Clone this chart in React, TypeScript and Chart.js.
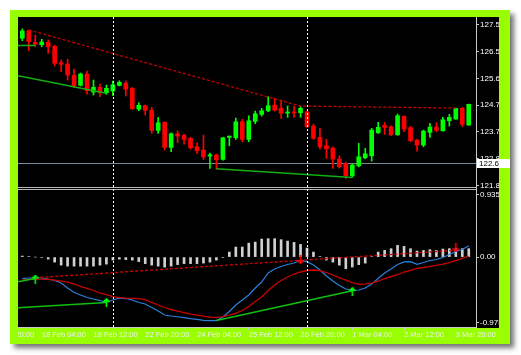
import React, { useEffect, useRef } from 'react';
import { Chart, registerables } from 'chart.js';

Chart.register(...registerables);

// ---- price candles (4h bars, index = bar number) ----
const opens = [127.062,127.329,126.921,126.836,126.921,126.780,126.203,126.157,125.759,125.407,
  125.805,125.171,125.336,125.146,125.206,125.407,125.488,125.301,124.572,124.689,
  124.537,123.822,124.104,123.224,123.703,123.646,123.541,123.245,123.129,122.917,
  122.953,122.801,123.576,123.562,124.125,123.505,124.139,124.386,124.512,124.713,
  124.597,124.431,124.467,124.442,124.477,123.974,123.576,123.280,123.199,122.812,
  122.660,122.224,122.576,122.858,122.928,123.738,123.999,123.949,123.667,124.315,
  123.914,123.481,123.305,123.752,123.938,123.808,124.160,124.220,124.597,124.009];
const highs = [127.389,127.354,127.178,127.026,127.002,126.815,126.298,126.322,125.970,125.840,
  125.910,125.593,125.453,125.417,125.558,125.569,125.558,125.336,124.794,124.713,
  124.632,124.280,124.125,123.738,123.808,123.692,123.576,123.386,123.657,123.023,
  122.988,123.576,123.622,124.255,124.210,124.336,124.502,124.597,125.005,124.949,
  124.889,124.678,124.678,124.678,124.502,124.044,123.893,123.505,123.245,122.928,
  122.696,122.636,123.365,123.188,123.893,124.104,124.104,123.984,124.396,124.336,
  123.963,123.505,123.833,124.069,124.090,124.280,124.386,124.607,124.632,124.748];
const lows = [126.977,126.625,126.766,126.766,126.534,126.086,125.886,125.593,125.322,125.382,
  125.100,125.065,125.005,125.090,125.041,125.382,125.030,124.562,124.512,124.361,
  123.717,123.717,123.129,123.069,123.386,123.340,123.164,123.012,122.801,122.484,
  122.459,122.777,123.280,123.505,123.421,123.421,124.055,124.326,124.477,124.502,
  124.245,124.280,124.291,124.280,123.928,123.505,123.164,122.837,122.484,122.495,
  122.132,122.178,122.541,122.822,122.741,123.717,123.681,123.632,123.646,123.773,
  123.421,123.093,123.245,123.576,123.773,123.798,123.974,124.210,123.949,123.999];
const closes = [127.319,126.942,126.850,126.931,126.766,126.181,126.146,125.769,125.393,125.805,
  125.217,125.336,125.146,125.301,125.428,125.512,125.266,124.583,124.703,124.527,
  123.822,124.090,123.224,123.703,123.622,123.505,123.210,123.104,122.893,122.963,
  122.787,123.562,123.622,124.125,123.505,124.160,124.407,124.512,124.689,124.537,
  124.421,124.467,124.431,124.597,123.949,123.541,123.245,123.174,122.812,122.541,
  122.224,122.600,122.893,122.998,123.833,123.928,123.928,123.667,124.336,123.868,
  123.456,123.305,123.798,123.938,123.822,124.196,124.280,124.597,124.033,124.738];

// ---- MACD sub-window ----
const macdMain = [-0.299,-0.292,-0.288,-0.292,-0.306,-0.327,-0.362,-0.431,-0.494,-0.529,
  -0.564,-0.585,-0.606,-0.633,-0.599,-0.571,-0.578,-0.599,-0.633,-0.654,
  -0.703,-0.752,-0.808,-0.822,-0.832,-0.843,-0.857,-0.868,-0.882,-0.887,
  -0.885,-0.836,-0.759,-0.668,-0.599,-0.529,-0.431,-0.348,-0.222,-0.166,
  -0.131,-0.103,-0.083,-0.045,-0.064,-0.110,-0.180,-0.264,-0.334,-0.396,
  -0.445,-0.466,-0.459,-0.431,-0.375,-0.299,-0.222,-0.166,-0.103,-0.066,
  -0.064,-0.101,-0.076,-0.048,-0.034,-0.006,0.036,0.078,0.106,0.159];
const macdSignal = [-0.320,-0.310,-0.306,-0.306,-0.310,-0.320,-0.334,-0.348,-0.375,-0.410,
  -0.438,-0.466,-0.501,-0.522,-0.550,-0.564,-0.571,-0.575,-0.580,-0.592,
  -0.633,-0.668,-0.703,-0.731,-0.752,-0.773,-0.794,-0.808,-0.822,-0.836,
  -0.840,-0.829,-0.808,-0.780,-0.745,-0.689,-0.620,-0.557,-0.466,-0.389,
  -0.327,-0.278,-0.236,-0.208,-0.187,-0.180,-0.190,-0.215,-0.250,-0.285,
  -0.320,-0.355,-0.380,-0.375,-0.362,-0.334,-0.299,-0.271,-0.243,-0.208,
  -0.184,-0.156,-0.145,-0.131,-0.115,-0.097,-0.076,-0.048,-0.017,0.015];
const macdHist = [0.014,0.007,0.0,-0.007,-0.028,-0.07,-0.112,-0.126,-0.126,-0.126,
  -0.126,-0.126,-0.112,-0.098,-0.042,-0.028,-0.035,-0.042,-0.063,-0.091,
  -0.112,-0.126,-0.14,-0.126,-0.105,-0.091,-0.091,-0.091,-0.084,-0.07,
  -0.042,-0.007,0.07,0.14,0.14,0.195,0.209,0.251,0.257,0.257,
  0.243,0.223,0.205,0.177,0.126,0.07,0.007,-0.042,-0.07,-0.112,
  -0.163,-0.139,-0.106,-0.084,0.007,0.07,0.093,0.117,0.163,0.149,
  0.117,0.084,0.093,0.103,0.093,0.112,0.117,0.117,0.117,0.117];

// ---- divergence lines ----
const priceHighLineBars = [1, 43, 67];
const priceHighLineValues = [127.354, 124.678, 124.607];
const priceLowLineABars = [-3, 2];
const priceLowLineAValues = [126.808, 126.808];
const priceLowLineBBars = [-1, 13];
const priceLowLineBValues = [125.759, 125.125];
const priceLowLineCBars = [30, 51];
const priceLowLineCValues = [122.47, 122.167];

const macdHighLineBars = [2, 43, 67];
const macdHighLineValues = [-0.288, -0.045, 0.095];
const macdLowLineABars = [-2, 2];
const macdLowLineAValues = [-0.366, -0.299];
const macdLowLineBBars = [-1, 13];
const macdLowLineBValues = [-0.707, -0.633];
const macdLowLineCBars = [30, 51];
const macdLowLineCValues = [-0.885, -0.47];

const upArrowBars = [2, 13, 51];
const upArrowValues = [-0.306, -0.633, -0.48];
const downArrowBars = [43, 67];
const downArrowValues = [-0.037, 0.129];

// ---- axes ----
const priceTicks = [127.53, 126.59, 125.65, 124.71, 123.77, 122.83, 121.89];
const priceTickLabels = ['127.5', '126.5', '125.6', '124.7', '123.7', '122.8', '121.8'];
const macdTicks = [0.87, 0, -0.91];
const macdTickLabels = ['0.9356', '0.00', '-0.975'];
const timeTicks = [-5, 3, 11, 19, 27, 35, 43, 51, 59, 67];
const timeTickLabels = ['16 Feb 20:00', '18 Feb 04:00', '19 Feb 12:00', '22 Feb 20:00', '24 Feb 04:00',
  '25 Feb 12:00', '26 Feb 20:00', '1 Mar 04:00', '2 Mar 12:00', '3 Mar 20:00'];

const priceMin = 121.725, priceMax = 127.81;
const macdMin = -0.975, macdMax = 0.9356;
const xMin = -0.665, xMax = 70.12;

const currentPrice = 122.69;
const currentPriceLabel = '122.6';
const vLineBars = [14, 44];

const GREEN_FRAME = '#99ff00';
const BULL = '#00ff00';
const BEAR = '#ff0000';
const FONT = 'Liberation Sans';

function makeArrow(color: string, up: boolean): HTMLCanvasElement {
  const c = document.createElement('canvas');
  c.width = 7; c.height = 9;
  const g = c.getContext('2d')!;
  g.strokeStyle = color; g.lineWidth = 1.6;
  g.beginPath();
  if (up) {
    g.moveTo(3.5, 9); g.lineTo(3.5, 1);
    g.moveTo(0.5, 4); g.lineTo(3.5, 1); g.lineTo(6.5, 4);
  } else {
    g.moveTo(3.5, 0); g.lineTo(3.5, 8);
    g.moveTo(0.5, 5); g.lineTo(3.5, 8); g.lineTo(6.5, 5);
  }
  g.stroke();
  return c;
}

const pts = (bars: number[], vals: number[]) => bars.map((b, k) => ({ x: b, y: vals[k] }));

const framePlugin = {
  id: 'mtFrame',
  beforeDraw(chart: any) {
    const ctx = chart.ctx;
    ctx.save();
    ctx.fillStyle = '#ffffff';
    ctx.fillRect(0, 0, chart.width, chart.height);
    ctx.shadowColor = 'rgba(0,0,0,0.55)';
    ctx.shadowBlur = 5; ctx.shadowOffsetX = 4; ctx.shadowOffsetY = 4;
    ctx.fillStyle = GREEN_FRAME;
    ctx.fillRect(10, 10, 500, 334);
    ctx.shadowColor = 'transparent';
    ctx.fillStyle = '#000000';
    ctx.fillRect(18, 17, 481, 311);
    // current price line
    const y = Math.round(chart.scales.y.getPixelForValue(currentPrice)) + 0.5;
    ctx.strokeStyle = '#778899'; ctx.lineWidth = 1;
    ctx.beginPath(); ctx.moveTo(chart.chartArea.left, y); ctx.lineTo(chart.chartArea.right, y); ctx.stroke();
    ctx.restore();
  },
  afterDatasetsDraw(chart: any) {
    const ctx = chart.ctx;
    const area = chart.chartArea;
    ctx.save();
    // separator between panes
    const yb = chart.scales.y.bottom;
    ctx.strokeStyle = '#b8b8b8'; ctx.lineWidth = 1;
    ctx.beginPath();
    ctx.moveTo(area.left, Math.round(yb) - 2.5); ctx.lineTo(area.right, Math.round(yb) - 2.5);
    ctx.moveTo(area.left, Math.round(yb) - 0.5); ctx.lineTo(area.right, Math.round(yb) - 0.5);
    ctx.stroke();
    // vertical dotted lines
    ctx.strokeStyle = '#ffffff'; ctx.setLineDash([2, 2]);
    for (const b of vLineBars) {
      const x = Math.round(chart.scales.x.getPixelForValue(b)) + 0.5;
      ctx.beginPath(); ctx.moveTo(x, area.top); ctx.lineTo(x, area.bottom); ctx.stroke();
    }
    ctx.restore();
  },
  afterDraw(chart: any) {
    const ctx = chart.ctx;
    ctx.save();
    ctx.fillStyle = '#ffffff';
    ctx.fillRect(0, 0, 10, chart.height);
    ctx.fillStyle = GREEN_FRAME;
    ctx.fillRect(10, 10, 8, 334);
    ctx.fillRect(499, 10, 11, 334);
    // current price label box
    const y = Math.round(chart.scales.y.getPixelForValue(currentPrice));
    ctx.fillStyle = '#ffffff';
    ctx.fillRect(477, y - 4, 33, 9);
    ctx.fillStyle = '#000000';
    ctx.font = `8px "${FONT}"`;
    ctx.textBaseline = 'middle';
    ctx.fillText(currentPriceLabel, 479, y + 0.5);
    ctx.restore();
  },
};

function barsOf(arr: number[]): number[] {
  return arr.map((_, i) => i);
}

export default function App() {
  const ref = useRef<HTMLCanvasElement>(null);
  useEffect(() => {
    document.body.style.margin = '0';
    const canvas = ref.current!;
    const upArrow = makeArrow('#00ff00', true);
    const downArrow = makeArrow('#ff0000', false);
    const candleColors = opens.map((o, i) => (closes[i] >= o ? BULL : BEAR));
    const lineDs = (bars: number[], vals: number[], axis: string, color: string, dash: number[], width: number, order: number) => ({
      type: 'line' as const,
      data: pts(bars, vals),
      yAxisID: axis,
      borderColor: color,
      borderWidth: width,
      borderDash: dash,
      pointRadius: 0,
      tension: 0,
      fill: false,
      order,
    });
    const yFit = (s: any) => { s.width = 23; s.paddingTop = 0; s.paddingBottom = 0; };
    const chart = new Chart(canvas, {
      type: 'bar',
      data: {
        datasets: [
          {
            type: 'bar',
            data: opens.map((_, i) => ({ x: i, y: [lows[i], highs[i]] })),
            yAxisID: 'y',
            backgroundColor: candleColors,
            barThickness: 1,
            grouped: false,
            minBarLength: 1,
            order: 20,
          } as any,
          {
            type: 'bar',
            data: opens.map((o, i) => ({ x: i, y: [o, closes[i]] })),
            yAxisID: 'y',
            backgroundColor: candleColors,
            barThickness: 4,
            grouped: false,
            minBarLength: 1,
            order: 19,
          } as any,
          lineDs(priceHighLineBars, priceHighLineValues, 'y', '#c80000', [3, 2], 1.3, 10),
          lineDs(priceLowLineABars, priceLowLineAValues, 'y', '#10b010', [], 1.5, 9),
          lineDs(priceLowLineBBars, priceLowLineBValues, 'y', '#10b010', [], 1.5, 9),
          lineDs(priceLowLineCBars, priceLowLineCValues, 'y', '#10b010', [], 1.5, 9),
          {
            type: 'bar',
            data: macdHist.map((v, i) => ({ x: i, y: v })),
            yAxisID: 'y2',
            backgroundColor: '#d0d0d0',
            barThickness: 2,
            grouped: false,
            order: 18,
          } as any,
          lineDs(barsOf(macdMain), macdMain, 'y2', '#2a80dc', [], 1.2, 8),
          lineDs(barsOf(macdSignal), macdSignal, 'y2', '#cc0000', [], 1.3, 7),
          lineDs(macdHighLineBars, macdHighLineValues, 'y2', '#d00000', [3, 2], 1.3, 6),
          lineDs(macdLowLineABars, macdLowLineAValues, 'y2', '#10c010', [], 1.5, 5),
          lineDs(macdLowLineBBars, macdLowLineBValues, 'y2', '#10c010', [], 1.5, 5),
          lineDs(macdLowLineCBars, macdLowLineCValues, 'y2', '#10c010', [], 1.5, 5),
          {
            type: 'scatter',
            data: pts(upArrowBars, upArrowValues),
            yAxisID: 'y2',
            pointStyle: upArrow,
            pointRadius: 4,
            order: 1,
          } as any,
          {
            type: 'scatter',
            data: pts(downArrowBars, downArrowValues),
            yAxisID: 'y2',
            pointStyle: downArrow,
            pointRadius: 4,
            order: 1,
          } as any,
        ],
      },
      options: {
        responsive: false,
        animation: false,
        devicePixelRatio: 1,
        events: [],
        layout: { padding: { left: 18, top: 17, right: 22, bottom: 17 } },
        plugins: { legend: { display: false }, tooltip: { enabled: false }, title: { display: false } },
        scales: {
          x: {
            type: 'linear',
            position: 'bottom',
            min: xMin,
            max: xMax,
            offset: false,
            afterBuildTicks: (s: any) => { s.ticks = timeTicks.map((v) => ({ value: v })); },
            afterFit: (s: any) => { s.height = 11; s.paddingLeft = 0; s.paddingRight = 0; },
            ticks: {
              autoSkip: false,
              maxRotation: 0,
              minRotation: 0,
              align: 'start',
              padding: 0,
              color: '#f0f0f0',
              font: { family: FONT, size: 7.5 },
              callback: (v: any) => {
                const k = timeTicks.indexOf(Number(v));
                return k >= 0 ? timeTickLabels[k] : '';
              },
            },
            grid: { display: true, drawOnChartArea: false, drawTicks: true, tickLength: 3, color: '#c8c8c8', offset: false },
            border: { display: true, color: '#c8c8c8', width: 1 },
          },
          y: {
            type: 'linear',
            position: 'right',
            stack: 'panes',
            stackWeight: 173,
            weight: 0,
            min: priceMin,
            max: priceMax,
            afterBuildTicks: (s: any) => { s.ticks = priceTicks.map((v) => ({ value: v })); },
            afterFit: yFit,
            ticks: {
              padding: 1,
              color: '#ffffff',
              font: { family: FONT, size: 8 },
              callback: (_v: any, i: number) => priceTickLabels[i],
            },
            grid: { display: true, drawOnChartArea: false, drawTicks: true, tickLength: 3, color: '#c8c8c8' },
            border: { display: true, color: '#c8c8c8', width: 1 },
          },
          y2: {
            type: 'linear',
            position: 'right',
            stack: 'panes',
            stackWeight: 137,
            weight: 1,
            min: macdMin,
            max: macdMax,
            afterBuildTicks: (s: any) => { s.ticks = macdTicks.map((v) => ({ value: v })); },
            afterFit: yFit,
            ticks: {
              padding: 1,
              color: '#ffffff',
              font: { family: FONT, size: 8 },
              callback: (_v: any, i: number) => macdTickLabels[i],
            },
            grid: { display: true, drawOnChartArea: false, drawTicks: true, tickLength: 3, color: '#c8c8c8' },
            border: { display: true, color: '#c8c8c8', width: 1 },
          },
        },
      } as any,
      plugins: [framePlugin],
    });
    return () => chart.destroy();
  }, []);
  return <canvas ref={ref} width={521} height={355} style={{ display: 'block', width: 521, height: 355 }} />;
}
